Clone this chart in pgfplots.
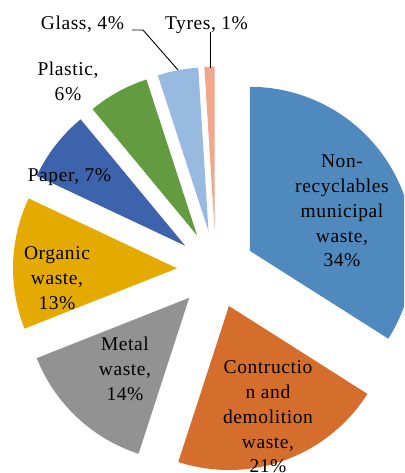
\documentclass[border=0pt]{standalone}
\usepackage{pgfplots}
\pgfplotsset{compat=1.18}
\usepackage{fontspec}
\setmainfont{Liberation Serif}[LetterSpace=3]

\definecolor{cNonrec}{RGB}{80,137,190}
\definecolor{cConstr}{RGB}{213,110,44}
\definecolor{cMetal}{RGB}{146,146,146}
\definecolor{cOrganic}{RGB}{228,170,0}
\definecolor{cPaper}{RGB}{60,99,172}
\definecolor{cPlastic}{RGB}{99,155,64}
\definecolor{cGlass}{RGB}{152,186,225}
\definecolor{cTyres}{RGB}{241,167,140}

% labels: anchored at the baseline of their last line
\tikzset{lbl/.style={font=\fontsize{19.5}{24.7}\selectfont, align=center, anchor=base, inner sep=0pt}}

% pie geometry (in axis units)
\def\cx{215.8}
\def\cy{203.5}
\def\R{164}
\def\ex{38.8}
\def\curang{90}

% one exploded slice: #1 = share in percent, #2 = colour; slices run clockwise from 12 o'clock
\newcommand\pieslice[2]{%
  \pgfmathsetmacro\sa{\curang}%
  \pgfmathsetmacro\ea{\curang-3.6*#1}%
  \pgfmathsetmacro\ma{(\sa+\ea)/2}%
  \pgfmathsetmacro\ox{\cx+\ex*cos(\ma)}%
  \pgfmathsetmacro\oy{\cy+\ex*sin(\ma)}%
  \edef\doslice{\noexpand\addplot[draw=none, fill=#2, domain=\ea:\sa, samples=90, variable=\noexpand\t]
    ({\ox+\R*cos(\noexpand\t)}, {\oy+\R*sin(\noexpand\t)}) -- (axis cs:\ox,\oy) -- cycle;}%
  \doslice
  \global\let\curang\ea
}

\begin{document}
\begin{tikzpicture}
\clip (0,0) rectangle (404pt,473pt);
\begin{axis}[at={(0,0)}, anchor=south west, scale only axis,
  width=404pt, height=473pt, xmin=0, xmax=404, ymin=0, ymax=473,
  hide axis, clip=true]

\pieslice{34}{cNonrec}
\pieslice{21}{cConstr}
\pieslice{14}{cMetal}
\pieslice{13}{cOrganic}
\pieslice{7}{cPaper}
\pieslice{6}{cPlastic}
\pieslice{4}{cGlass}
\pieslice{1}{cTyres}

% leader lines for the two small slices
\addplot[black, line width=0.9pt] coordinates {(132,443) (143,443) (178,403)};
\addplot[black, line width=0.9pt] coordinates {(210,441) (210,405)};

\node[lbl] at (axis cs:342,206.2) {Non-\\recyclables\\municipal\\waste,\\34\%};
\node[lbl] at (axis cs:268,0.2) {Contructio\\n and\\demolition\\waste,\\21\%};
\node[lbl] at (axis cs:125,72.9) {Metal\\waste,\\14\%};
\node[lbl] at (axis cs:57,163.6) {Organic\\waste,\\13\%};
\node[lbl] at (axis cs:69.5,291) {Paper, 7\%};
\node[lbl] at (axis cs:68,372.3) {Plastic,\\6\%};
\node[lbl] at (axis cs:82.5,443) {Glass, 4\%};
\node[lbl] at (axis cs:206.5,443) {Tyres, 1\%};
\end{axis}
\end{tikzpicture}
\end{document}
